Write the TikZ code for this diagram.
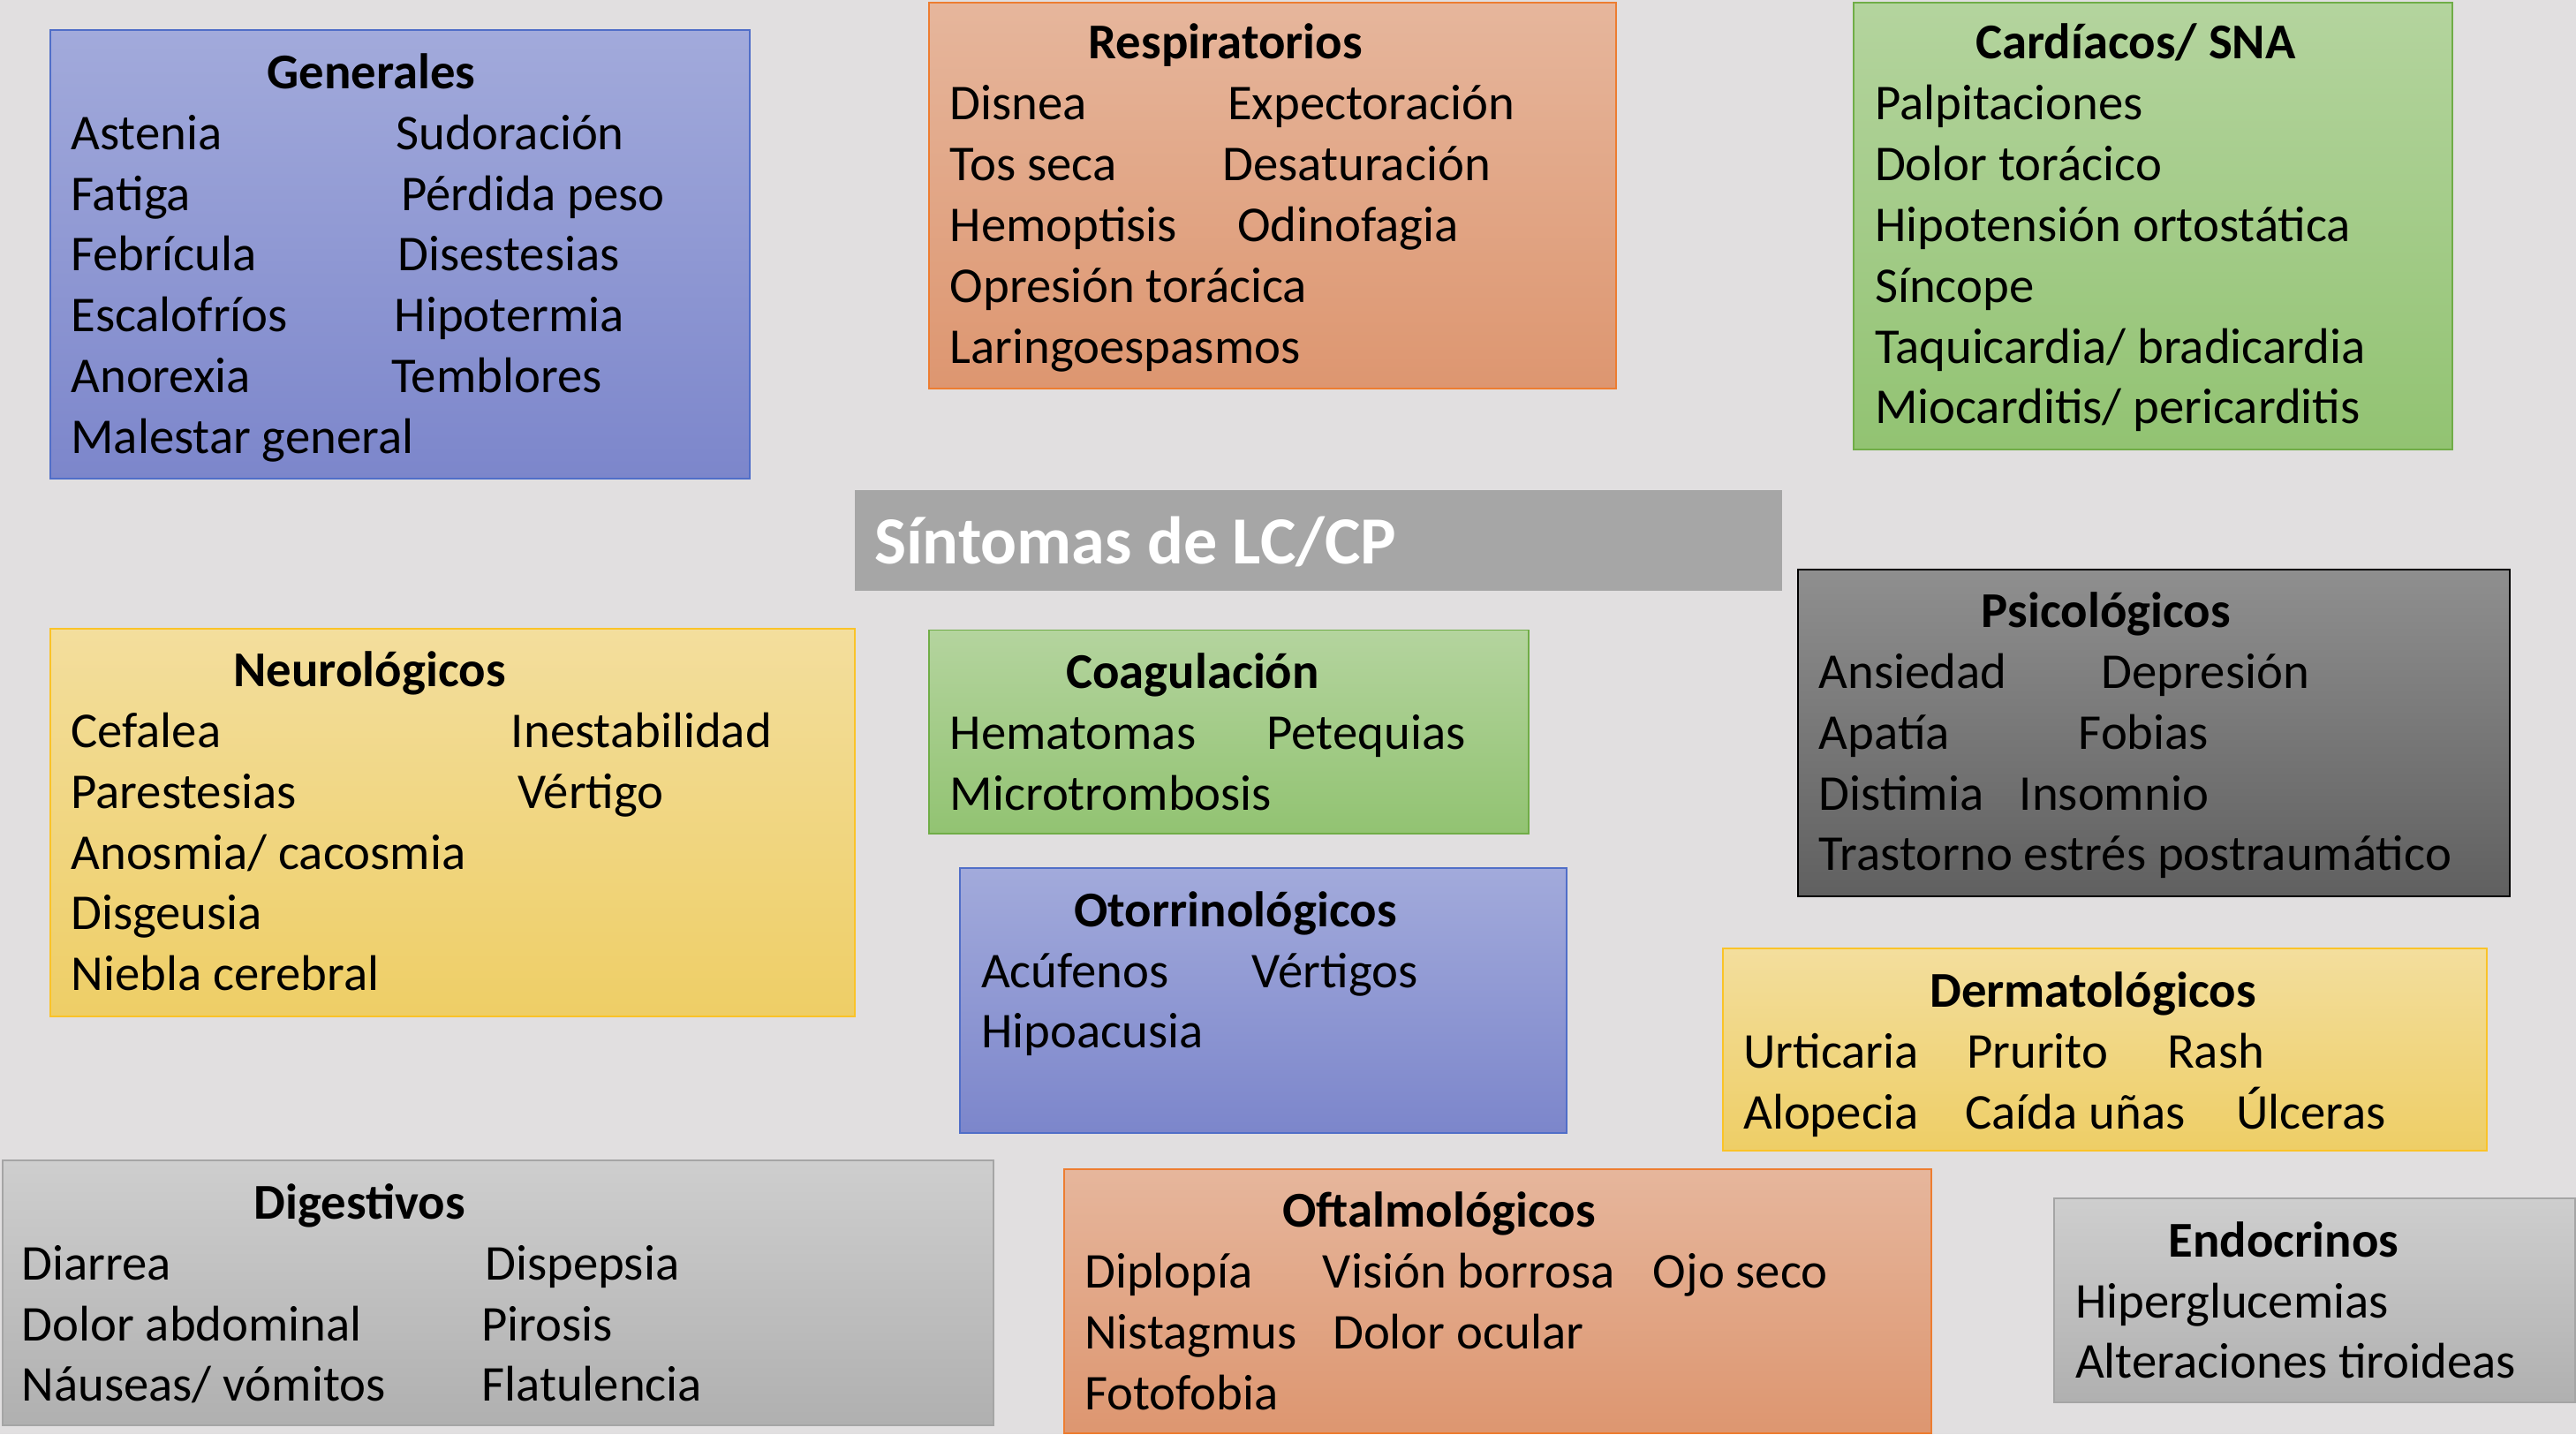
\documentclass[tikz,border=0pt]{standalone}
\usepackage{fontspec}
\setmainfont{Carlito}
\definecolor{bgc}{RGB}{225,223,224}
\definecolor{bluet}{RGB}{162,170,219}\definecolor{blueb}{RGB}{124,134,203}\definecolor{bluel}{RGB}{80,110,200}
\definecolor{oranget}{RGB}{230,182,156}\definecolor{orangeb}{RGB}{221,150,112}\definecolor{orangel}{RGB}{237,125,49}
\definecolor{greent}{RGB}{180,212,158}\definecolor{greenb}{RGB}{146,195,114}\definecolor{greenl}{RGB}{112,173,71}
\definecolor{yellowt}{RGB}{243,222,157}\definecolor{yellowb}{RGB}{238,206,102}\definecolor{yellowl}{RGB}{250,195,40}
\definecolor{dgrayt}{RGB}{143,143,143}\definecolor{dgrayb}{RGB}{96,96,96}
\definecolor{lgrayt}{RGB}{206,206,206}\definecolor{lgrayb}{RGB}{176,176,176}\definecolor{lgrayl}{RGB}{165,165,165}
\definecolor{titlec}{RGB}{166,166,166}
\tikzset{
  box/.style={rectangle, anchor=north west, inner sep=0pt, line width=1pt},
  bluebox/.style={box, top color=bluet, bottom color=blueb, draw=bluel},
  orangebox/.style={box, top color=oranget, bottom color=orangeb, draw=orangel},
  greenbox/.style={box, top color=greent, bottom color=greenb, draw=greenl},
  yellowbox/.style={box, top color=yellowt, bottom color=yellowb, draw=yellowl},
  dgraybox/.style={box, top color=dgrayt, bottom color=dgrayb, draw=black},
  lgraybox/.style={box, top color=lgrayt, bottom color=lgrayb, draw=lgrayl},
  item/.style={anchor=base west, inner sep=0pt, yshift=-1pt, font=\fontsize{30.5}{37}\selectfont},
  head/.style={anchor=base, inner sep=0pt, yshift=-1pt, font=\fontsize{30.5}{37}\selectfont\bfseries},
}
\begin{document}
\begin{tikzpicture}[x=1pt,y=-1pt]
\useasboundingbox (0,0) rectangle (1568,873);
\fill[bgc] (0,0) rectangle (1568,873);

% Generales
\node[bluebox, minimum width=426pt, minimum height=273pt] (gen) at (30,18) {};
\node[head] (genh) at (226,53) {Generales};
\node[item] (g1) at (43,90) {Astenia};
\node[item] (g2) at (241,90) {Sudoración};
\node[item] (g3) at (43,127) {Fatiga};
\node[item] (g4) at (244,127) {Pérdida peso};
\node[item] (g5) at (43,164) {Febrícula};
\node[item] (g6) at (242,164) {Disestesias};
\node[item] (g7) at (43,201) {Escalofríos};
\node[item] (g8) at (240,201) {Hipotermia};
\node[item] (g9) at (43,238) {Anorexia};
\node[item] (g10) at (238,238) {Temblores};
\node[item] (g11) at (43,275) {Malestar general};

% Respiratorios
\node[orangebox, minimum width=418pt, minimum height=235pt] (resp) at (565,1) {};
\node[head] (resph) at (746,35) {Respiratorios};
\node[item] (r1) at (578,72) {Disnea};
\node[item] (r2) at (747,72) {Expectoración};
\node[item] (r3) at (578,109) {Tos seca};
\node[item] (r4) at (744,109) {Desaturación};
\node[item] (r5) at (578,146) {Hemoptisis};
\node[item] (r6) at (753,146) {Odinofagia};
\node[item] (r7) at (578,183) {Opresión torácica};
\node[item] (r8) at (578,220) {Laringoespasmos};

% Cardiacos
\node[greenbox, minimum width=364pt, minimum height=272pt] (card) at (1128,1) {};
\node[head] (cardh) at (1300,35) {Cardíacos/ SNA};
\node[item] (c1) at (1141,72) {Palpitaciones};
\node[item] (c2) at (1141,109) {Dolor torácico};
\node[item] (c3) at (1141,146) {Hipotensión ortostática};
\node[item] (c4) at (1141,183) {Síncope};
\node[item] (c5) at (1141,220) {Taquicardia/ bradicardia};
\node[item] (c6) at (1141,257) {Miocarditis/ pericarditis};

% Title
\node[box, fill=titlec, minimum width=564pt, minimum height=61pt] (tit) at (520,298) {};
\node[anchor=base west, inner sep=0pt, text=white, font=\fontsize{41}{49}\selectfont\bfseries] (titt) at (532,343) {Síntomas de LC/CP};

% Neurologicos
\node[yellowbox, minimum width=490pt, minimum height=236pt] (neu) at (30,382) {};
\node[head] (neuh) at (225,417) {Neurológicos};
\node[item] (n1) at (43,454) {Cefalea};
\node[item] (n2) at (311,454) {Inestabilidad};
\node[item] (n3) at (43,491) {Parestesias};
\node[item] (n4) at (315,491) {Vértigo};
\node[item] (n5) at (43,528) {Anosmia/ cacosmia};
\node[item] (n6) at (43,565) {Disgeusia};
\node[item] (n7) at (43,602) {Niebla cerebral};

% Coagulacion
\node[greenbox, minimum width=365pt, minimum height=124pt] (coa) at (565,383) {};
\node[head] (coah) at (726,418) {Coagulación};
\node[item] (co1) at (578,455) {Hematomas};
\node[item] (co2) at (771,455) {Petequias};
\node[item] (co3) at (578,492) {Microtrombosis};

% Psicologicos
\node[dgraybox, minimum width=433pt, minimum height=199pt] (psi) at (1094,346) {};
\node[head] (psih) at (1282,381) {Psicológicos};
\node[item] (p1) at (1107,418) {Ansiedad};
\node[item] (p2) at (1279,418) {Depresión};
\node[item] (p3) at (1107,455) {Apatía};
\node[item] (p4) at (1265,455) {Fobias};
\node[item] (p5) at (1107,492) {Distimia};
\node[item] (p6) at (1229,492) {Insomnio};
\node[item] (p7) at (1107,529) {Trastorno estrés postraumático};

% Otorrinologicos
\node[bluebox, minimum width=369pt, minimum height=161pt] (oto) at (584,528) {};
\node[head] (otoh) at (752,563) {Otorrinológicos};
\node[item] (o1) at (597,600) {Acúfenos};
\node[item] (o2) at (762,600) {Vértigos};
\node[item] (o3) at (597,637) {Hipoacusia};

% Dermatologicos
\node[yellowbox, minimum width=465pt, minimum height=123pt] (der) at (1048,577) {};
\node[head] (derh) at (1274,612) {Dermatológicos};
\node[item] (d1) at (1061,649) {Urticaria};
\node[item] (d2) at (1197,649) {Prurito};
\node[item] (d3) at (1319,649) {Rash};
\node[item] (d4) at (1061,686) {Alopecia};
\node[item] (d5) at (1196,686) {Caída uñas};
\node[item] (d6) at (1361,686) {Úlceras};

% Digestivos
\node[lgraybox, minimum width=603pt, minimum height=161pt] (dig) at (1,706) {};
\node[head] (digh) at (219,741) {Digestivos};
\node[item] (di1) at (13,778) {Diarrea};
\node[item] (di2) at (295,778) {Dispepsia};
\node[item] (di3) at (13,815) {Dolor abdominal};
\node[item] (di4) at (293,815) {Pirosis};
\node[item] (di5) at (13,852) {Náuseas/ vómitos};
\node[item] (di6) at (293,852) {Flatulencia};

% Oftalmologicos
\node[orangebox, minimum width=528pt, minimum height=161pt] (oft) at (647,711) {};
\node[head] (ofth) at (876,746) {Oftalmológicos};
\node[item] (of1) at (660,783) {Diplopía};
\node[item] (of2) at (805,783) {Visión borrosa};
\node[item] (of3) at (1006,783) {Ojo seco};
\node[item] (of4) at (660,820) {Nistagmus};
\node[item] (of5) at (811,820) {Dolor ocular};
\node[item] (of6) at (660,857) {Fotofobia};

% Endocrinos
\node[lgraybox, minimum width=317pt, minimum height=124pt] (end) at (1250,729) {};
\node[head] (endh) at (1390,764) {Endocrinos};
\node[item] (e1) at (1263,801) {Hiperglucemias};
\node[item] (e2) at (1263,838) {Alteraciones tiroideas};
\end{tikzpicture}
\end{document}
